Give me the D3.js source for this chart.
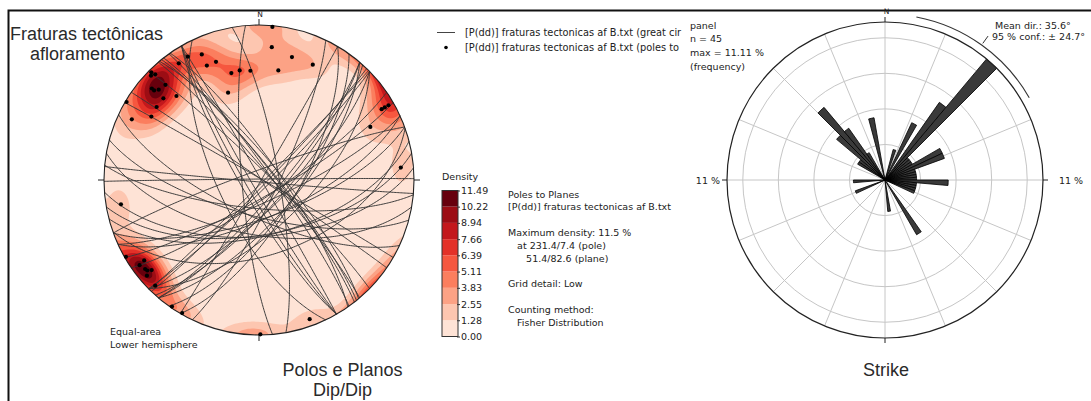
<!DOCTYPE html>
<html>
<head>
<meta charset="utf-8">
<script src="https://cdn.jsdelivr.net/npm/d3@7"></script>
<style>
  html, body { margin: 0; padding: 0; background: #fff; }
  svg { display: block; }
  .small { font-family: "DejaVu Sans", sans-serif; font-size: 9.5px; fill: #222; }
  .title { font-family: "Liberation Sans", Arial, sans-serif; font-size: 18px; fill: #2a2a2a; }
</style>
</head>
<body>
<svg id="chart" width="1091" height="401"></svg>
<script>
// ---------------------------------------------------------------
// Poles to the fracture planes (trend / plunge, degrees, lower hemisphere)
const poleTrend = [5, 5.5, 15, 25, 10, 335.5, 330, 325.5, 335.5, 340, 345.5, 350, 355.5, 340.5,
  315, 315.5, 310.5, 310.5, 315.5, 310.5, 315.5, 305.5, 300.5, 295.5, 300.5,
  60, 60, 64.5, 85, 260, 235, 230, 229.5, 224.5, 214.5, 210, 179.5, 160,
  314, 232, 231, 234.5, 60, 312, 240];
const polePlunge = [1, 15, 19, 19, 29, 12, 9, 9.5, 20, 20, 29.5, 29, 30, 40,
  2, 5, 10, 12, 15, 20, 25, 20, 1, 10, 20.5,
  4, 9.5, 21.5, 9, 10.5, 10.5, 10.5, 5.5, 5, 1, 1, 0.5, 5,
  3.5, 7.5, 8, 6, 7, 14, 1];

// Density colour-bar levels (%)
const densityLevels = [0.00, 1.28, 2.55, 3.83, 5.11, 6.39, 7.66, 8.94, 10.22, 11.49];
const densityMax = 11.49;
const kappa = 65;   // Fisher concentration used for the smoothing

// Rose diagram of strikes: 5-degree bins (centre) and counts
const strikeBinCentre = [17.5, 27.5, 37.5, 42.5, 47.5, 52.5, 57.5, 62.5, 67.5, 72.5, 77.5, 82.5, 87.5,
  92.5, 97.5, 102.5, 107.5, 112.5, 147.5, 172.5, 247.5, 267.5,
  302.5, 307.5, 312.5, 317.5, 322.5, 327.5, 347.5];
const strikeCount = [1, 2, 3, 5, 1, 1, 1, 2, 2, 1, 1, 1, 1,
  2, 1, 1, 1, 1, 2, 1, 1, 1,
  1, 1, 2, 3, 2, 1, 2];
const strikeBinWidth = 5;
const nMeasures = 45;
const roseMaxPct = 11.11;
const roseGridPct = [2.5, 5, 7.5, 10];
const roseSpokes = d3.range(0, 360, 22.5);
const meanDir = 35.6, conf95 = 24.7;

// Text blocks (legend entries run past the panel edge and are cut there)
const legendLabels = ["[P(dd)] fraturas tectonicas af B.txt (great cir",
                      "[P(dd)] fraturas tectonicas af B.txt (poles to"];
const infoLines = ["Poles to Planes", "[P(dd)] fraturas tectonicas af B.txt", null,
  "Maximum density: 11.5 %", "   at 231.4/7.4 (pole)", "      51.4/82.6 (plane)", null,
  "Grid detail: Low", null, "Counting method:", "   Fisher Distribution"];
const roseInfo = ["panel", "n = " + nMeasures, "max = " + roseMaxPct.toFixed(2) + " %", "(frequency)"];

// ---------------------------------------------------------------
const svg = d3.select("#chart");
const rad = Math.PI / 180;

// outer frame (left and top edges)
svg.append("path").attr("d", "M8.5,401V10.5H1091")
  .attr("fill", "none").attr("stroke", "#111").attr("stroke-width", 2);

// ================= Stereonet (equal-area, lower hemisphere) =================
const net = { cx: 259, cy: 180, r: 155 };
const proj = d3.geoAzimuthalEqualArea()
  .rotate([0, -90])
  .clipAngle(90)
  .scale(net.r / Math.SQRT2)
  .translate([net.cx, net.cy])
  .precision(0.1);
const geo = d3.geoPath(proj);
const toLonLat = (t, p) => [180 - t, p];
const poleLL = poleTrend.map((t, i) => toLonLat(t, polePlunge[i]));

const nBands = densityLevels.length - 1;
const bandColor = i => d3.interpolateReds(0.1 + 0.9 * i / (nBands - 1));

const defs = svg.append("defs");
defs.append("clipPath").attr("id", "netClip")
  .append("circle").attr("cx", net.cx).attr("cy", net.cy).attr("r", net.r);

// Fisher-smoothed density of poles on a pixel grid
const gStep = 2, pad = 4;
const gx0 = net.cx - net.r - pad, gy0 = net.cy - net.r - pad;
const gn = Math.ceil(2 * (net.r + pad) / gStep) + 1;
const grid = new Float64Array(gn * gn);
const lim = net.r * 0.998;
for (let j = 0; j < gn; j++) {
  for (let i = 0; i < gn; i++) {
    let px = gx0 + i * gStep - net.cx, py = gy0 + j * gStep - net.cy;
    const d = Math.hypot(px, py);
    if (d > lim) { px *= lim / d; py *= lim / d; }
    const ll = proj.invert([net.cx + px, net.cy + py]);
    let s = 0;
    for (const q of poleLL) s += Math.exp(kappa * (Math.abs(Math.cos(d3.geoDistance(ll, q))) - 1));
    grid[j * gn + i] = s;
  }
}
const gmax = d3.max(grid);
for (let i = 0; i < grid.length; i++) grid[i] *= densityMax / gmax;

const contours = d3.contours().size([gn, gn]).thresholds(densityLevels.slice(1, -1))(grid);
const cPath = d3.geoPath(d3.geoIdentity().scale(gStep).translate([gx0 - gStep / 2, gy0 - gStep / 2]));

const netG = svg.append("g");
const dens = netG.append("g").attr("clip-path", "url(#netClip)");
dens.append("circle").attr("cx", net.cx).attr("cy", net.cy).attr("r", net.r).attr("fill", bandColor(0));
dens.selectAll("path.band").data(contours).join("path")
  .attr("class", "band")
  .attr("d", cPath)
  .attr("fill", (d, i) => bandColor(i + 1));

// great circles of the planes
const circles = poleLL.map(c => ({ type: "LineString", coordinates: d3.geoCircle().center(c).radius(90).precision(1)().coordinates[0] }));
netG.append("g").selectAll("path").data(circles).join("path")
  .attr("d", geo).attr("fill", "none").attr("stroke", "#363636").attr("stroke-width", 0.95);

// primitive circle and cardinal ticks
netG.append("circle").attr("cx", net.cx).attr("cy", net.cy).attr("r", net.r)
  .attr("fill", "none").attr("stroke", "#222").attr("stroke-width", 1.1);
[0, 90, 180, 270].forEach(a => {
  const s = Math.sin(a * rad), c = -Math.cos(a * rad);
  netG.append("line")
    .attr("x1", net.cx + s * net.r).attr("y1", net.cy + c * net.r)
    .attr("x2", net.cx + s * (net.r + 6)).attr("y2", net.cy + c * (net.r + 6))
    .attr("stroke", "#222").attr("stroke-width", 1);
});
netG.append("text").attr("class", "small").attr("x", net.cx + 1).attr("y", net.cy - net.r - 8)
  .attr("text-anchor", "middle").style("font-size", "7.5px").text("N");

// poles
netG.append("g").selectAll("circle").data(poleLL).join("circle")
  .attr("cx", d => proj(d)[0]).attr("cy", d => proj(d)[1]).attr("r", 2.1).attr("fill", "#000");

netG.append("text").attr("class", "small").attr("x", 110).attr("y", 334.5).text("Equal-area");
netG.append("text").attr("class", "small").attr("x", 110).attr("y", 347.5).text("Lower hemisphere");

// titles
svg.append("text").attr("class", "title").attr("x", 10).attr("y", 40).text("Fraturas tectônicas");
svg.append("text").attr("class", "title").attr("x", 30).attr("y", 59.5).text("afloramento");
svg.append("text").attr("class", "title").attr("x", 342.5).attr("y", 375.5).attr("text-anchor", "middle").text("Polos e Planos");
svg.append("text").attr("class", "title").attr("x", 342.5).attr("y", 395.5).attr("text-anchor", "middle").text("Dip/Dip");

// legend
const leg = svg.append("g");
leg.append("line").attr("x1", 437).attr("x2", 455).attr("y1", 32.5).attr("y2", 32.5).attr("stroke", "#444").attr("stroke-width", 1);
leg.append("circle").attr("cx", 446).attr("cy", 47.5).attr("r", 1.8).attr("fill", "#000");
leg.selectAll("text").data(legendLabels).join("text").attr("class", "small")
  .style("font-size", "9.8px")
  .attr("x", 465).attr("y", (d, i) => 36 + i * 15).text(d => d);

// colour bar
const cb = { x: 442, w: 16 };
const cbY = d3.scaleLinear().domain([0, densityMax]).range([336.5, 190.5]);
const cbG = svg.append("g");
cbG.selectAll("rect").data(d3.range(nBands)).join("rect")
  .attr("x", cb.x).attr("width", cb.w)
  .attr("y", i => cbY(densityLevels[i + 1])).attr("height", i => cbY(densityLevels[i]) - cbY(densityLevels[i + 1]))
  .attr("fill", i => bandColor(i));
cbG.append("rect").attr("x", cb.x).attr("y", cbY(densityMax)).attr("width", cb.w)
  .attr("height", cbY(0) - cbY(densityMax)).attr("fill", "none").attr("stroke", "#333").attr("stroke-width", 1);
const cbAxis = d3.axisRight(cbY).tickValues(densityLevels).tickFormat(d3.format(".2f")).tickSize(3).tickPadding(1);
const ax = cbG.append("g").attr("transform", `translate(${cb.x + cb.w - 1},0)`).call(cbAxis);
ax.select(".domain").remove();
ax.selectAll("line").attr("stroke", "#333");
ax.selectAll("text").attr("class", "small").attr("fill", "#222").style("font-size", "9.5px").style("font-family", "DejaVu Sans");
svg.append("text").attr("class", "small").attr("x", 442).attr("y", 180).text("Density");

// statistics block
svg.append("g").selectAll("text").data(infoLines).join("text")
  .attr("class", "small").attr("x", 508).attr("y", (d, i) => 197.5 + i * 12.8)
  .attr("xml:space", "preserve").style("white-space", "pre")
  .text(d => d || "");

// ================= Rose diagram of strikes =================
const rose = { cx: 885, cy: 180, r: 158 };
const rS = d3.scaleLinear().domain([0, roseMaxPct]).range([0, rose.r]);
const roseG = svg.append("g").attr("transform", `translate(${rose.cx},${rose.cy})`);

roseG.selectAll("circle.grid").data(roseGridPct).join("circle")
  .attr("class", "grid").attr("r", d => rS(d)).attr("fill", "none").attr("stroke", "#c6c6c6").attr("stroke-width", 1);
roseG.selectAll("line.spoke").data(roseSpokes).join("line")
  .attr("class", "spoke")
  .attr("x2", d => rose.r * Math.sin(d * rad)).attr("y2", d => -rose.r * Math.cos(d * rad))
  .attr("stroke", "#c6c6c6").attr("stroke-width", 1);

const petal = d3.arc().innerRadius(0);
roseG.selectAll("path.petal").data(strikeBinCentre.map((c, i) => ({ c, pct: strikeCount[i] / nMeasures * 100 })))
  .join("path").attr("class", "petal")
  .attr("d", d => petal.outerRadius(rS(d.pct))({ startAngle: (d.c - strikeBinWidth / 2) * rad, endAngle: (d.c + strikeBinWidth / 2) * rad }))
  .attr("fill", "#3a3a3a").attr("stroke", "#000").attr("stroke-width", 0.8).attr("stroke-linejoin", "round");

roseG.append("circle").attr("r", rose.r).attr("fill", "none").attr("stroke", "#222").attr("stroke-width", 1.2);
[0, 90, 180, 270].forEach(a => {
  const s = Math.sin(a * rad), c = -Math.cos(a * rad);
  roseG.append("line").attr("x1", s * rose.r).attr("y1", c * rose.r)
    .attr("x2", s * (rose.r + 5)).attr("y2", c * (rose.r + 5)).attr("stroke", "#222").attr("stroke-width", 1);
});
roseG.append("text").attr("class", "small").attr("x", 1.5).attr("y", -rose.r - 8)
  .attr("text-anchor", "middle").style("font-size", "7.5px").text("N");
const maxLabel = Math.floor(roseMaxPct) + " %";
roseG.append("text").attr("class", "small").attr("x", -rose.r - 7).attr("y", 3.5).attr("text-anchor", "end").text(maxLabel);
roseG.append("text").attr("class", "small").attr("x", rose.r + 16).attr("y", 3.5).text(maxLabel);

// mean direction and 95% confidence arc
const confArc = d3.arc().innerRadius(165.5).outerRadius(166.6)
  .startAngle((meanDir - conf95) * rad).endAngle((meanDir + conf95) * rad);
roseG.append("path").attr("d", confArc()).attr("fill", "#333");
roseG.append("line")
  .attr("x1", 168 * Math.sin(meanDir * rad)).attr("y1", -168 * Math.cos(meanDir * rad))
  .attr("x2", 177 * Math.sin(meanDir * rad)).attr("y2", -177 * Math.cos(meanDir * rad))
  .attr("stroke", "#333").attr("stroke-width", 1);

svg.append("text").attr("class", "small").attr("x", 995).attr("y", 28.5).text("Mean dir.: " + meanDir.toFixed(1) + "°");
svg.append("text").attr("class", "small").attr("x", 992).attr("y", 39.5).text("95 % conf.: ± " + conf95.toFixed(1) + "°");

svg.append("g").selectAll("text").data(roseInfo).join("text")
  .attr("class", "small").attr("x", 690).attr("y", (d, i) => 28.5 + i * 13.8).text(d => d);

svg.append("text").attr("class", "title").attr("x", 886).attr("y", 375.5).attr("text-anchor", "middle").text("Strike");
</script>
</body>
</html>
